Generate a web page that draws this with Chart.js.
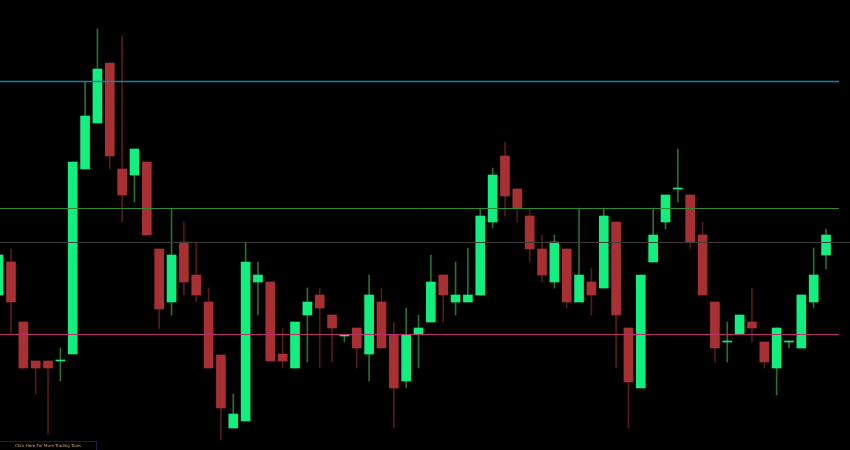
<!DOCTYPE html>
<html>
<head>
<meta charset="utf-8">
<script src="https://cdn.jsdelivr.net/npm/chart.js@4.4.0/dist/chart.umd.min.js"></script>
<style>
  html, body { margin: 0; padding: 0; background: #000; }
  #wrap { position: relative; width: 850px; height: 450px; }
  #promo {
    position: absolute; left: 0; top: 441px; width: 96px; height: 9px;
    border-top: 1px solid #1c1c48; border-right: 1px solid #1c1c48;
    color: #c8a25c; font: 4px "DejaVu Sans", sans-serif;
    text-align: center; line-height: 8px; white-space: nowrap;
  }
</style>
</head>
<body>
<div id="wrap">
  <canvas id="chart" width="850" height="450"></canvas>
  <div id="promo">Click Here For More Trading Tools</div>
</div>
<script>
// candle values (points), oldest first
const opens  = [155, 188, 128, 89, 89, 89, 96, 281, 327, 387, 281, 275, 288, 201, 148, 208, 175, 148, 95, 22,
                29, 168, 168, 96, 82, 135, 155, 135, 114, 122, 96, 148, 115, 69, 116, 128, 175, 148, 148, 155,
                228, 294, 261, 234, 201, 168, 201, 148, 168, 162, 228, 122, 62, 188, 228, 261, 255, 215, 148, 108,
                116, 128, 108, 82, 108, 102, 148, 195];
const highs  = [200, 201, 128, 89, 89, 102, 288, 368, 421, 387, 414, 301, 288, 201, 242, 228, 208, 162, 95, 56,
                208, 188, 168, 122, 128, 162, 162, 135, 115, 122, 175, 162, 128, 142, 135, 195, 175, 188, 202, 242,
                282, 308, 261, 242, 215, 215, 201, 242, 182, 242, 228, 122, 175, 242, 255, 301, 255, 228, 148, 128,
                135, 162, 108, 122, 109, 155, 202, 221];
const lows   = [150, 117, 82, 56, 16, 69, 96, 281, 327, 281, 228, 248, 215, 121, 135, 155, 148, 82, 10, 22,
                29, 135, 89, 82, 82, 88, 82, 88, 108, 82, 69, 102, 22, 62, 82, 128, 128, 135, 148, 155,
                222, 234, 228, 188, 168, 162, 142, 148, 135, 162, 82, 22, 62, 188, 221, 248, 201, 155, 88, 88,
                116, 108, 82, 55, 102, 102, 142, 181];
const closes = [195, 148, 82, 82, 82, 90, 288, 334, 381, 294, 255, 301, 215, 141, 195, 168, 155, 82, 42, 36,
                188, 175, 89, 89, 128, 148, 142, 122, 115, 102, 155, 102, 62, 115, 122, 168, 155, 155, 155, 234,
                275, 254, 242, 201, 175, 208, 148, 175, 155, 234, 135, 68, 175, 215, 255, 262, 208, 155, 102, 109,
                135, 122, 88, 122, 109, 155, 175, 215];

// horizontal levels drawn across the chart
const levelValues = [369, 242, 208, 116];
const levelColors = ['#1b80a6', '#2e8c2e', '#3c3c3c', '#b8306c'];

const bullColor = '#12ef7f';
const bearColor = '#a83032';
const bullWick = '#2a6e2a';
const bearWick = '#55191a';

const isBull = (i) => closes[i] >= opens[i];

const levelsPlugin = {
  id: 'levels',
  afterDatasetsDraw(chart) {
    const { ctx, chartArea, scales } = chart;
    ctx.save();
    levelValues.forEach((v, k) => {
      const y = Math.round(scales.y.getPixelForValue(v)) + 0.5;
      const right = k === 2 ? chartArea.right : chartArea.right - 11;
      ctx.strokeStyle = levelColors[k];
      ctx.lineWidth = k === 0 ? 1.5 : 1;
      ctx.beginPath();
      ctx.moveTo(chartArea.left, y);
      ctx.lineTo(right, y);
      ctx.stroke();
    });
    ctx.restore();
  },
};

const ctx = document.getElementById('chart').getContext('2d');
new Chart(ctx, {
  type: 'bar',
  data: {
    datasets: [
      {
        label: 'body',
        data: opens.map((o, i) => ({ x: i, y: [o, closes[i]] })),
        backgroundColor: opens.map((o, i) => (isBull(i) ? bullColor : bearColor)),
        barThickness: 9,
        grouped: false,
        order: 1,
      },
      {
        label: 'wick',
        data: lows.map((l, i) => ({ x: i, y: [l, highs[i]] })),
        backgroundColor: lows.map((l, i) => (isBull(i) ? bullWick : bearWick)),
        barThickness: 1,
        grouped: false,
        order: 2,
      },
    ],
  },
  options: {
    responsive: false,
    animation: false,
    layout: { padding: 0 },
    plugins: { legend: { display: false }, tooltip: { enabled: false } },
    scales: {
      x: { type: 'linear', display: false, offset: false, min: 0.11, max: 68.94 },
      y: { display: false, min: 0, max: 450 },
    },
  },
  plugins: [levelsPlugin],
});
</script>
</body>
</html>
